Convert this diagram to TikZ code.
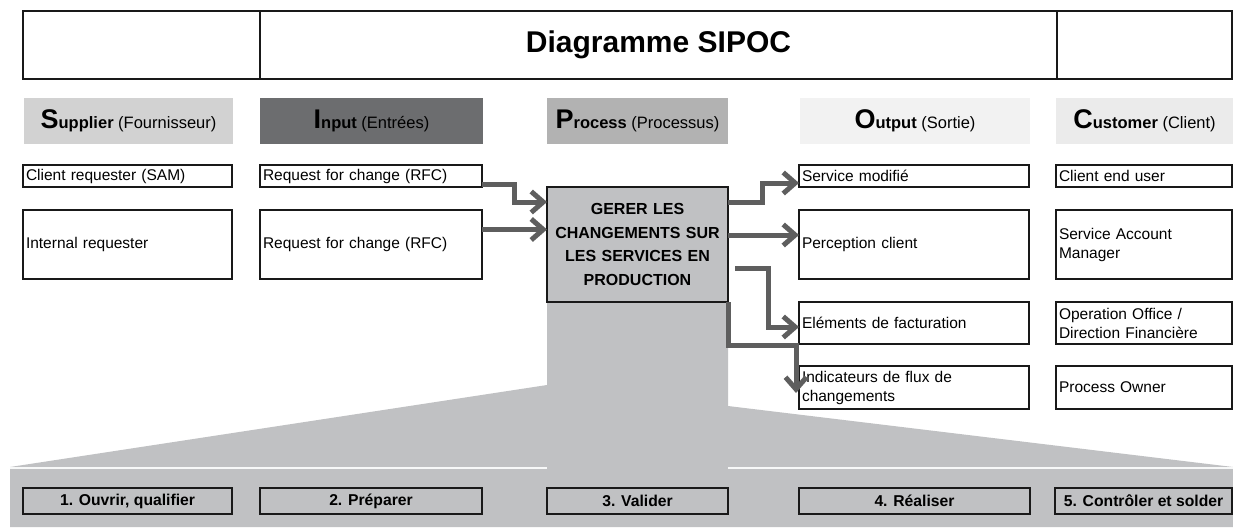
\documentclass[tikz,border=0pt]{standalone}
\usepackage{fontspec}
\setmainfont{Liberation Sans}
\usetikzlibrary{arrows.meta}

\definecolor{hdrS}{HTML}{D2D2D2}
\definecolor{hdrI}{HTML}{6C6D6F}
\definecolor{hdrP}{HTML}{B2B2B2}
\definecolor{hdrO}{HTML}{F2F2F2}
\definecolor{hdrC}{HTML}{EBEBEB}
\definecolor{funnel}{HTML}{C0C1C3}
\definecolor{flowgray}{HTML}{5E5E5E}

% big initial, bold word, plain translation
\newcommand{\sipochead}[3]{{\fontsize{27}{27}\selectfont\bfseries #1}{\fontsize{16.5}{18}\selectfont\bfseries #2 \mdseries #3}}

\tikzset{
  titlebox/.style={draw=black!90, line width=2pt, anchor=north west, inner sep=0pt, outer sep=0pt, minimum height=68pt},
  header/.style={anchor=north west, inner sep=0pt, outer sep=0pt, minimum height=46pt},
  cell/.style={draw=black!90, line width=1.5pt, fill=white, anchor=north west, inner xsep=3pt, inner ysep=0pt, outer sep=0pt, align=left, font=\fontsize{15.5}{19}\selectfont},
  procbox/.style={draw=black!90, line width=2.5pt, fill=funnel, anchor=north west, inner sep=0pt, outer sep=0pt, align=center, font=\fontsize{16}{23.5}\selectfont\bfseries},
  stepbox/.style={draw=black!90, line width=2.5pt, anchor=north west, inner sep=0pt, outer sep=0pt, minimum height=26pt, font=\fontsize{15.7}{18}\selectfont\bfseries},
  flow/.style={draw=flowgray, line width=5pt, -{Straight Barb[length=12pt,width=21pt]}},
}

\begin{document}
\begin{tikzpicture}[x=1pt,y=-1pt]
  \useasboundingbox (0,0) rectangle (1233,527);

  % grey zoom-out towards the sub-steps
  \fill[funnel] (547,302) -- (728,302) -- (728,406) -- (1233,467) -- (1233,527)
    -- (10,527) -- (10,467) -- (547,385) -- cycle;
  \draw[white!88!funnel, line width=1.5pt] (10,468) -- (547,468);
  \draw[white!88!funnel, line width=1.5pt] (728,468) -- (1233,468);

  % title bar
  \node[titlebox, minimum width=237pt] (tleft) at (23,11) {};
  \node[titlebox, minimum width=797pt, font=\fontsize{30}{32}\selectfont\bfseries] (title) at (260,11) {Diagramme SIPOC};
  \node[titlebox, minimum width=175pt] (tright) at (1057,11) {};

  % column headers
  \node[header, fill=hdrS, minimum width=209pt] (hS) at (24,98)   {\sipochead{S}{upplier}{(Fournisseur)}};
  \node[header, fill=hdrI, minimum width=223pt] (hI) at (260,98)  {\sipochead{I}{nput}{(Entrées)}};
  \node[header, fill=hdrP, minimum width=181pt] (hP) at (547,98)  {\sipochead{P}{rocess}{(Processus)}};
  \node[header, fill=hdrO, minimum width=230pt] (hO) at (800,98)  {\sipochead{O}{utput}{(Sortie)}};
  \node[header, fill=hdrC, minimum width=177pt] (hC) at (1056,98) {\sipochead{C}{ustomer}{(Client)}};

  % suppliers
  \node[cell, text width=203pt, minimum height=22pt] (s1) at (23,165) {Client requester (SAM)};
  \node[cell, text width=203pt, minimum height=69pt] (s2) at (23,210) {Internal requester};

  % inputs
  \node[cell, text width=216pt, minimum height=22pt] (i1) at (260,165) {Request for change (RFC)};
  \node[cell, text width=216pt, minimum height=69pt] (i2) at (260,210) {Request for change (RFC)};

  % process
  \node[procbox, minimum width=181pt, minimum height=115pt, text width=175pt] (proc) at (547,187)
    {GERER LES\\CHANGEMENTS SUR\\LES SERVICES EN\\PRODUCTION};

  % outputs
  \node[cell, text width=224pt, minimum height=22pt] (o1) at (799,165) {Service modifié};
  \node[cell, text width=224pt, minimum height=69pt] (o2) at (799,210) {Perception client};
  \node[cell, text width=224pt, minimum height=42pt] (o3) at (799,302) {Eléments de facturation};
  \node[cell, text width=224pt, minimum height=43pt] (o4) at (799,366) {Indicateurs de flux de\\changements};

  % customers
  \node[cell, text width=170pt, minimum height=22pt] (c1) at (1056,165) {Client end user};
  \node[cell, text width=170pt, minimum height=69pt] (c2) at (1056,210) {Service Account\\Manager};
  \node[cell, text width=170pt, minimum height=42pt] (c3) at (1056,302) {Operation Office /\\Direction Financière};
  \node[cell, text width=170pt, minimum height=43pt] (c4) at (1056,366) {Process Owner};

  % flows in and out of the process
  \draw[flow] ([yshift=-8pt]i1.east) -- ++(32,0) |- ([yshift=42.5pt]proc.west);
  \draw[flow] ([yshift=15pt]i2.east) -- ([yshift=15pt]proc.west);
  \draw[flow] ([yshift=42.5pt]proc.east) -- ++(34,0) |- ([yshift=-7pt]o1.west);
  \draw[flow] ([yshift=9.5pt]proc.east) -- ([yshift=9.5pt]o2.west);
  \draw[flow] ([xshift=7pt,yshift=-23.5pt]proc.east) -- ++(33,0) |- ([yshift=-4pt]o3.west);
  \coordinate (drop) at ([xshift=-3pt,yshift=-5.5pt]o4.west);
  \draw[flow] (proc.south east) -- ++(0,43) -| (drop);

  % sub-steps
  \foreach \x/\w/\t [count=\i] in {23/209/{1. Ouvrir, qualifier}, 260/222/{2. Préparer},
      547/181/{3. Valider}, 799/231/{4. Réaliser}, 1055/177/{5. Contrôler et solder}}
    \node[stepbox, minimum width=\w pt] (step\i) at (\x,488) {\t};
\end{tikzpicture}
\end{document}
